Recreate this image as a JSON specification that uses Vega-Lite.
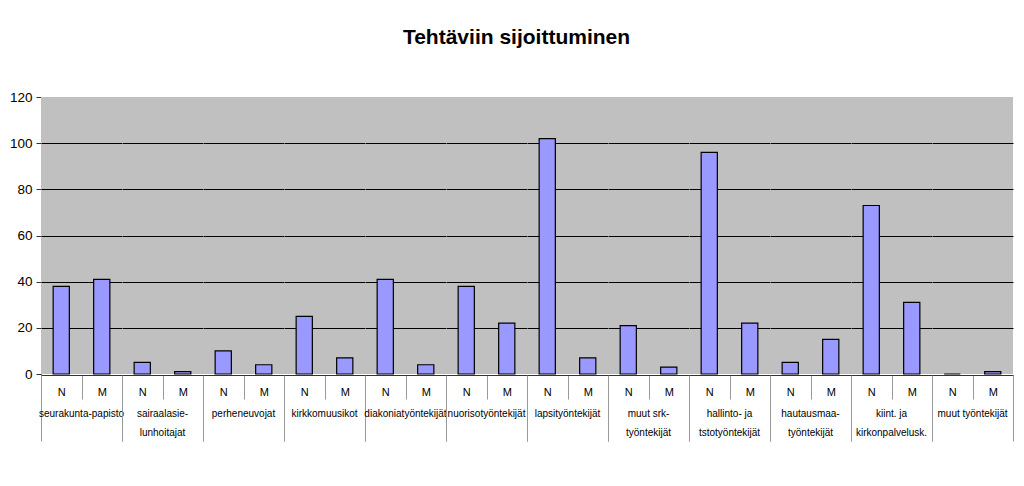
{
  "$schema": "https://vega.github.io/schema/vega-lite/v6.json",
  "padding": {"left": 9, "top": 27, "right": 10, "bottom": 5},
  "background": "white",
  "title": {
    "text": "Tehtäviin sijoittuminen",
    "font": "Liberation Sans",
    "fontSize": 21,
    "fontWeight": "bold",
    "color": "black",
    "anchor": "middle",
    "offset": 42,
    "dx": 5
  },
  "data": {
    "values": [
      {"g": "seurakunta-papisto", "i": 1, "s": "N", "v": 38},
      {"g": "seurakunta-papisto", "i": 1, "s": "M", "v": 41},
      {"g": "sairaalasie-|lunhoitajat", "i": 2, "s": "N", "v": 5},
      {"g": "sairaalasie-|lunhoitajat", "i": 2, "s": "M", "v": 1},
      {"g": "perheneuvojat", "i": 3, "s": "N", "v": 10},
      {"g": "perheneuvojat", "i": 3, "s": "M", "v": 4},
      {"g": "kirkkomuusikot", "i": 4, "s": "N", "v": 25},
      {"g": "kirkkomuusikot", "i": 4, "s": "M", "v": 7},
      {"g": "diakoniatyöntekijät", "i": 5, "s": "N", "v": 41},
      {"g": "diakoniatyöntekijät", "i": 5, "s": "M", "v": 4},
      {"g": "nuorisotyöntekijät", "i": 6, "s": "N", "v": 38},
      {"g": "nuorisotyöntekijät", "i": 6, "s": "M", "v": 22},
      {"g": "lapsityöntekijät", "i": 7, "s": "N", "v": 102},
      {"g": "lapsityöntekijät", "i": 7, "s": "M", "v": 7},
      {"g": "muut srk-|työntekijät", "i": 8, "s": "N", "v": 21},
      {"g": "muut srk-|työntekijät", "i": 8, "s": "M", "v": 3},
      {"g": "hallinto- ja|tstotyöntekijät", "i": 9, "s": "N", "v": 96},
      {"g": "hallinto- ja|tstotyöntekijät", "i": 9, "s": "M", "v": 22},
      {"g": "hautausmaa-|työntekijät", "i": 10, "s": "N", "v": 5},
      {"g": "hautausmaa-|työntekijät", "i": 10, "s": "M", "v": 15},
      {"g": "kiint. ja|kirkonpalvelusk.", "i": 11, "s": "N", "v": 73},
      {"g": "kiint. ja|kirkonpalvelusk.", "i": 11, "s": "M", "v": 31},
      {"g": "muut työntekijät", "i": 12, "s": "N", "v": 0},
      {"g": "muut työntekijät", "i": 12, "s": "M", "v": 1}
    ]
  },
  "facet": {
    "column": {
      "field": "g",
      "type": "nominal",
      "sort": {"field": "i", "op": "min"},
      "title": null,
      "header": {
        "labelOrient": "bottom",
        "labelFont": "Liberation Sans",
        "labelFontSize": 10,
        "labelColor": "black",
        "labelExpr": "split(datum.label, '|')",
        "labelPadding": -33,
        "labelBaseline": "top",
        "labelLineHeight": 19
      }
    }
  },
  "spacing": 0,
  "spec": {
    "width": 81,
    "height": 277,
    "mark": {"type": "bar", "fill": "#9999FF", "stroke": "black", "strokeWidth": 1.2, "width": {"band": 0.4}},
    "encoding": {
      "x": {
        "field": "s",
        "type": "nominal",
        "sort": ["N", "M"],
        "scale": {"paddingInner": 0, "paddingOuter": 0},
        "axis": {
          "title": null,
          "labelAngle": 0,
          "labelFont": "Liberation Sans",
          "labelFontSize": 11,
          "labelColor": "black",
          "labelBaseline": "top",
          "tickBand": "extent",
          "tickColor": "#999999",
          "tickSize": {"condition": {"test": "datum.value === 'N'", "value": 24}, "value": 66},
          "labelPadding": {"condition": {"test": "datum.value === 'N'", "value": -13}, "value": -55},
          "domainColor": "#333333"
        }
      },
      "y": {
        "field": "v",
        "type": "quantitative",
        "scale": {"domain": [0, 120]},
        "axis": {
          "title": null,
          "values": [0, 20, 40, 60, 80, 100, 120],
          "labelFont": "Liberation Sans",
          "labelFontSize": 13.5,
          "labelColor": "black",
          "labelPadding": 4,
          "tickSize": 5,
          "tickColor": "#333333",
          "domainColor": "#333333",
          "grid": true,
          "gridColor": "black",
          "gridOpacity": {"condition": {"test": "datum.value === 0 || datum.value === 120", "value": 0}, "value": 1}
        }
      }
    }
  },
  "config": {
    "view": {"fill": "#C0C0C0", "stroke": null}
  }
}
